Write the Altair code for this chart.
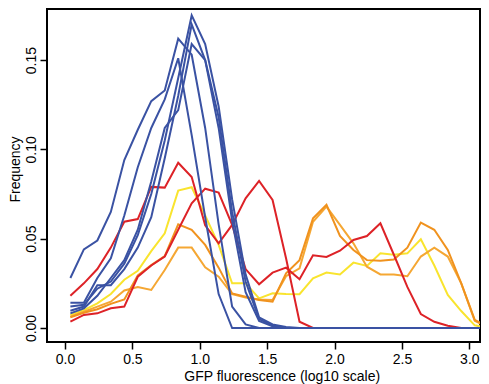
import altair as alt
import pandas as pd

xs = [0.04, 0.14, 0.24, 0.34, 0.44, 0.54, 0.64, 0.74, 0.84, 0.94, 1.04, 1.14,
      1.24, 1.34, 1.44, 1.54, 1.64, 1.74, 1.84, 1.94, 2.04, 2.14, 2.24, 2.34,
      2.44, 2.54, 2.64, 2.74, 2.84, 2.94, 3.04, 3.14]

blue1 = [0.028, 0.044, 0.049, 0.065, 0.094, 0.111, 0.127, 0.133, 0.162, 0.153, 0.112, 0.058,
         0.012, 0.002, 0, 0, 0, 0, 0, 0, 0, 0, 0, 0, 0, 0, 0, 0, 0, 0, 0, 0]
blue2 = [0.0142, 0.0142, 0.028, 0.039, 0.063, 0.090, 0.112, 0.128, 0.151, 0.108, 0.062, 0.019,
         0, 0, 0, 0, 0, 0, 0, 0, 0, 0, 0, 0, 0, 0, 0, 0, 0, 0, 0, 0]
blue3 = [0.012, 0.013, 0.022, 0.026, 0.036, 0.052, 0.075, 0.105, 0.140, 0.175, 0.159, 0.124,
         0.072, 0.030, 0.006, 0.002, 0.0005, 0, 0, 0, 0, 0, 0, 0, 0, 0, 0, 0, 0, 0, 0, 0]
blue4 = [0.0097, 0.012, 0.024, 0.024, 0.033, 0.045, 0.062, 0.095, 0.130, 0.170, 0.150, 0.118,
         0.065, 0.026, 0.005, 0.0015, 0, 0, 0, 0, 0, 0, 0, 0, 0, 0, 0, 0, 0, 0, 0, 0]
blue5 = [0.0082, 0.011, 0.018, 0.028, 0.038, 0.055, 0.082, 0.112, 0.122, 0.159, 0.150, 0.112,
         0.060, 0.020, 0.004, 0.001, 0, 0, 0, 0, 0, 0, 0, 0, 0, 0, 0, 0, 0, 0, 0, 0]
red1 = [0.018, 0.025, 0.033, 0.045, 0.0595, 0.061, 0.079, 0.0786, 0.0925, 0.0845, 0.0575, 0.0474,
        0.0577, 0.0726, 0.0823, 0.0717, 0.039, 0.0035, 0, 0, 0, 0, 0, 0, 0, 0, 0, 0, 0, 0, 0, 0]
red2 = [0.0036, 0.0073, 0.0082, 0.011, 0.012, 0.0287, 0.035, 0.040, 0.055, 0.0698, 0.078, 0.0758,
        0.0577, 0.033, 0.0245, 0.031, 0.0338, 0.0273, 0.0407, 0.0398, 0.0433, 0.0493, 0.0515, 0.0586,
        0.041, 0.023, 0.0078, 0.0035, 0.0013, 0, 0, 0]
orange1 = [0.006, 0.0085, 0.0105, 0.0135, 0.016, 0.0295, 0.0352, 0.0402, 0.058, 0.0549, 0.0465, 0.0338,
           0.0194, 0.0175, 0.0157, 0.0147, 0.0306, 0.038, 0.0614, 0.069, 0.0515, 0.0437, 0.038, 0.0377,
           0.0383, 0.045, 0.059, 0.055, 0.0437, 0.025, 0.0045, 0.0005]
orange2 = [0.0063, 0.0091, 0.012, 0.0147, 0.021, 0.023, 0.0213, 0.0325, 0.045, 0.045, 0.034, 0.0287,
           0.019, 0.017, 0.016, 0.0157, 0.029, 0.0334, 0.0595, 0.068, 0.0577, 0.0474, 0.0343, 0.030,
           0.030, 0.029, 0.040, 0.045, 0.040, 0.025, 0.004, 0.0005]
yellow1 = [0.0073, 0.010, 0.0138, 0.019, 0.027, 0.032, 0.043, 0.053, 0.0769, 0.0788, 0.063, 0.0465,
           0.025, 0.025, 0.0166, 0.0194, 0.019, 0.0189, 0.0278, 0.031, 0.030, 0.0366, 0.0347, 0.0418,
           0.041, 0.0418, 0.0497, 0.035, 0.0185, 0.0095, 0.0015, 0]

x_ticks = [0.0, 0.5, 1.0, 1.5, 2.0, 2.5, 3.0]
y_ticks = [0.00, 0.05, 0.10, 0.15]

groups = [
    ("#f9e42e", {"yellow1": yellow1}),
    ("#f5a733", {"orange2": orange2}),
    ("#f0921e", {"orange1": orange1}),
    ("#dd2227", {"red1": red1, "red2": red2}),
    ("#3a52a3", {"blue1": blue1, "blue2": blue2, "blue3": blue3, "blue4": blue4, "blue5": blue5}),
]

xscale = alt.Scale(domain=[-0.1335, 3.079], nice=False, zero=False)
yscale = alt.Scale(domain=[-0.00784, 0.1786], nice=False, zero=False)

xaxis = alt.Axis(values=x_ticks, format=".1f", title="GFP fluorescence (log10 scale)",
                 grid=False, domain=False, tickSize=7, tickWidth=1.5, tickColor="black",
                 labelFlush=False, labelOverlap=False, labelBaseline="alphabetic",
                 labelPadding=14, labelFontSize=14, labelColor="black", labelFont="Liberation Sans",
                 titleFont="Liberation Sans", titleFontSize=14, titleFontWeight="normal",
                 titleColor="black", titleX=234.7, titleY=38, titleBaseline="alphabetic",
                 titleAlign="center")
yaxis = alt.Axis(values=y_ticks, format=".2f", title="Frequency",
                 grid=False, domain=False, tickSize=7, tickWidth=1.5, tickColor="black",
                 labelFlush=False, labelOverlap=False, labelAngle=270, labelAlign="center",
                 labelBaseline="alphabetic", labelPadding=5, labelFontSize=14, labelColor="black",
                 labelFont="Liberation Sans", titleFont="Liberation Sans", titleFontSize=14,
                 titleFontWeight="normal", titleColor="black", titleAngle=270,
                 titleBaseline="alphabetic", titleAlign="center", titleX=-28, titleY=160)

layers = []
for color, series in groups:
    rows = []
    for name, vals in series.items():
        assert len(vals) == len(xs)
        for x, v in zip(xs, vals):
            rows.append({"series": name, "x": x, "y": v})
    df = pd.DataFrame(rows)
    layer = alt.Chart(df).mark_line(color=color, strokeWidth=2, clip=True).encode(
        x=alt.X("x:Q", scale=xscale, axis=xaxis),
        y=alt.Y("y:Q", scale=yscale, axis=yaxis),
        detail="series:N",
    )
    layers.append(layer)

chart = alt.layer(*layers).properties(
    width=433, height=333,
    autosize=alt.AutoSizeParams(type="none"),
    padding={"left": 39, "top": 1, "right": 1, "bottom": 44},
).configure_view(stroke="black", strokeWidth=2)

chart.save("out.html", embed_options={"renderer": "svg", "actions": False})
